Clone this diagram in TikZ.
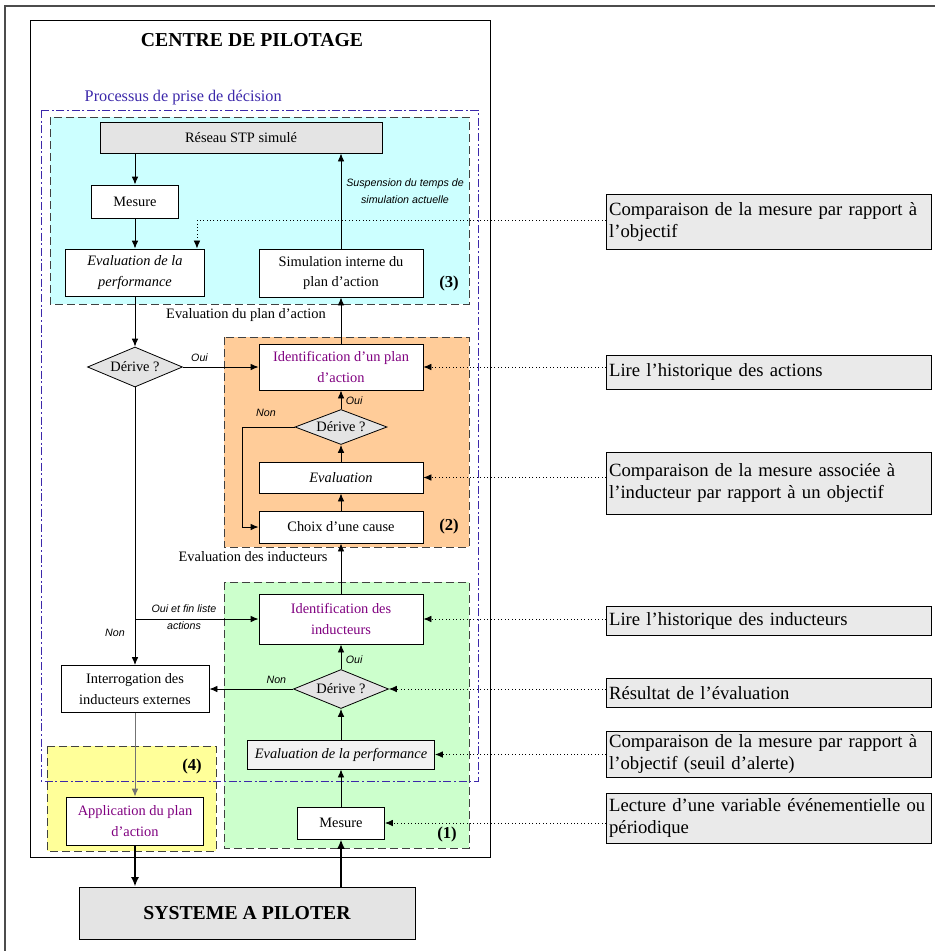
\documentclass[tikz,border=0pt]{standalone}
\usepackage{fontspec}
\setmainfont{Liberation Serif}
\newfontfamily\notefont{Liberation Sans}
\usetikzlibrary{shapes.geometric,arrows.meta}

\definecolor{zonecyan}{RGB}{204,255,255}
\definecolor{zoneorange}{RGB}{255,204,153}
\definecolor{zonegreen}{RGB}{204,255,204}
\definecolor{zoneyellow}{RGB}{255,255,153}
\definecolor{boxgray}{RGB}{228,228,228}
\definecolor{notegray}{RGB}{234,234,234}
\definecolor{procblue}{RGB}{60,40,170}
\definecolor{idpurple}{RGB}{128,0,128}

\begin{document}
\begin{tikzpicture}[x=0.75pt, y=-0.75pt,
	box/.style={draw, fill=white, line width=0.7pt, align=center, inner sep=1pt,
		font=\fontsize{10.8}{15.5}\selectfont},
	decision/.style={diamond, draw, fill=boxgray, aspect=2.4, inner sep=1pt,
		line width=0.6pt, font=\fontsize{10.8}{13}\selectfont},
	zone/.style={draw=black!75, dash pattern=on 6pt off 3pt, line width=0.7pt},
	arr/.style={-{Latex[length=6pt,width=5pt]}, line width=0.7pt},
	thickarr/.style={-{Latex[length=7pt,width=6pt]}, line width=1.6pt},
	dotarr/.style={-{Latex[length=6pt,width=5pt]}, dotted, line width=0.6pt},
	note/.style={draw, fill=notegray, line width=0.7pt, anchor=north west, align=left,
		inner sep=2pt, text width=239.75pt, font=\fontsize{14}{16.5}\selectfont},
	lbl/.style={font=\notefont\itshape\fontsize{8}{12.75}\selectfont, align=center},
	tag/.style={font=\bfseries\fontsize{12.5}{14}\selectfont}
]
	\useasboundingbox (0,0) rectangle (935,951);

	% --- Page frame ---
	\draw[line width=1.5pt, black!70] (935,6) -- (5,6) -- (5,951);

	% --- Centre de pilotage ---
	\draw[line width=0.7pt] (30,20) rectangle (490,857);
	\node[font=\bfseries\fontsize{14.8}{16}\selectfont] (title) at (252,40) {CENTRE DE PILOTAGE};

	% --- Zones ---
	\draw[zone, fill=zonecyan] (50,117) rectangle (469,304);
	\draw[zone, fill=zoneorange] (224,337) rectangle (469,547);
	\draw[zone, fill=zonegreen] (224,582) rectangle (469,848);
	\draw[zone, fill=zoneyellow] (47,746) rectangle (216,851);
	\draw[procblue, line width=0.7pt, dash pattern=on 6pt off 2pt on 1.5pt off 2pt]
		(41,110) rectangle (478,781);
	\node[procblue, anchor=west, font=\fontsize{12.2}{14}\selectfont] (proc) at (80,98)
		{Processus de prise de décision};

	% --- Zone tags ---
	\node[tag] (tag3) at (449,283) {(3)};
	\node[tag] (tag2) at (449,526) {(2)};
	\node[tag] (tag1) at (447,834) {(1)};
	\node[tag] (tag4) at (192,766) {(4)};

	% --- Simulation (3) ---
	\node[box, fill=boxgray, minimum width=211.5pt, minimum height=23.25pt] (reseau) at (241,137.5) {Réseau STP simulé};
	\node[box, minimum width=65.25pt, minimum height=24.75pt] (mesure3) at (135,201.5) {Mesure};
	\node[box, minimum width=104.25pt, minimum height=35.25pt, font=\itshape\fontsize{10.8}{15.5}\selectfont] (eval3) at (135,272.5) {Evaluation de la\\performance};
	\node[box, minimum width=123pt, minimum height=36pt] (simul) at (341,273) {Simulation interne du\\plan d’action};
	\node[lbl] (suspend) at (405,191.5) {Suspension du temps de\\simulation actuelle};

	% --- Plan d'action (2) ---
	\node[decision, minimum width=71.25pt, minimum height=30pt] (d1) at (135,367) {Dérive ?};
	\node[box, text=idpurple, minimum width=123pt, minimum height=34.5pt] (idplan) at (341,367) {Identification d’un plan\\d’action};
	\node[decision, minimum width=69pt, minimum height=26.25pt] (d2) at (341,427) {Dérive ?};
	\node[box, minimum width=123pt, minimum height=23.25pt, font=\itshape\fontsize{10.8}{15.5}\selectfont] (evaluation) at (341,477.5) {Evaluation};
	\node[box, minimum width=123pt, minimum height=24pt] (choix) at (341,527) {Choix d’une cause};
	\node[font=\fontsize{10.8}{13}\selectfont] (evplan) at (246,315) {Evaluation du plan d’action};
	\node[font=\fontsize{10.8}{13}\selectfont] (evind) at (253,557) {Evaluation des inducteurs};

	% --- Inducteurs (1) ---
	\node[box, text=idpurple, minimum width=123pt, minimum height=37.5pt] (idind) at (341,619) {Identification des\\inducteurs};
	\node[decision, minimum width=71.25pt, minimum height=29.25pt] (d3) at (341,689) {Dérive ?};
	\node[box, minimum width=111pt, minimum height=35.25pt] (interrog) at (135,689) {Interrogation des\\inducteurs externes};
	\node[box, fill=notegray!60, minimum width=140.25pt, minimum height=21.75pt, font=\itshape\fontsize{10.8}{15.5}\selectfont] (evalperf1) at (341,754.5) {Evaluation de la performance};
	\node[box, minimum width=65.25pt, minimum height=24pt] (mesure1) at (341,823) {Mesure};

	% --- Application (4) and system ---
	\node[box, text=idpurple, minimum width=102.75pt, minimum height=36pt] (application) at (135,821) {Application du plan\\d’action};
	\node[box, fill=boxgray, minimum width=252pt, minimum height=39pt, font=\bfseries\fontsize{14.8}{16}\selectfont] (systeme) at (247,913) {SYSTEME A PILOTER};

	% --- Notes ---
	\node[note, minimum height=41.25pt] (n1) at (606,194) {Comparaison de la mesure par rapport à\\l’objectif};
	\node[note, minimum height=25.5pt] (n2) at (606,355) {Lire l’historique des actions};
	\node[note, minimum height=46.5pt] (n3) at (606,452) {Comparaison de la mesure associée à\\l’inducteur par rapport à un objectif};
	\node[note, minimum height=21.75pt] (n4) at (606,606) {Lire l’historique des inducteurs};
	\node[note, minimum height=21.75pt] (n5) at (606,678) {Résultat de l’évaluation};
	\node[note, minimum height=34.5pt] (n6) at (606,731) {Comparaison de la mesure par rapport à\\l’objectif (seuil d’alerte)};
	\node[note, minimum height=37.5pt] (n7) at (606,793) {Lecture d’une variable événementielle ou\\périodique};

	% --- Connectors in (3) ---
	\draw[arr] (mesure3.north |- reseau.south) -- (mesure3.north);
	\draw[arr] (mesure3) -- (eval3);
	\draw[arr] (simul.north) -- (simul.north |- reseau.south);

	% --- Connectors in (2) ---
	\draw[arr] (eval3) -- (d1);
	\draw[arr] (d1.east) -- node[lbl, above, pos=0.22] (oui1) {Oui} (idplan.west);
	\draw[arr] (idplan) -- (simul);
	\draw[arr] (d2) -- node[lbl, right, pos=0.45] (oui2) {Oui} (idplan);
	\draw[arr] (evaluation) -- (d2);
	\draw[arr] (choix) -- (evaluation);
	\draw[arr] (d2.west) -| ([xshift=-12pt]choix.west) -- (choix.west);
	\node[lbl] (non2) at (266,413) {Non};
	\draw[arr] (idind) -- (choix);

	% --- Connectors in (1) ---
	\draw[arr] (d1.south) -- (interrog.north);
	\draw[arr] (d1.south |- idind.west) -- (idind.west);
	\node[lbl] (ouifin) at (184,617) {Oui et fin liste\\actions};
	\node[lbl] (non1) at (115,633) {Non};
	\draw[arr] (d3.west) -- node[lbl, above, pos=0.2] (non3) {Non} (interrog.east);
	\draw[arr] (d3) -- node[lbl, right, pos=0.4] (oui3) {Oui} (idind);
	\draw[arr] (evalperf1) -- (d3);
	\draw[arr] (mesure1) -- (evalperf1);

	% --- To and from the system ---
	\draw[arr, black!55] (interrog) -- (application);
	\draw[thickarr] (application.south) -- (application.south |- systeme.north);
	\draw[thickarr] (mesure1.south |- systeme.north) -- (mesure1.south);

	% --- Notes to boxes ---
	\draw[dotarr] (n1.west |- 0,220) -| ([xshift=-6pt]eval3.north east);
	\draw[dotarr] (idplan.east -| n2.west) -- (idplan.east);
	\draw[dotarr] (evaluation.east -| n3.west) -- (evaluation.east);
	\draw[dotarr] (idind.east -| n4.west) -- (idind.east);
	\draw[dotarr] (d3.east -| n5.west) -- (d3.east);
	\draw[dotarr] (evalperf1.east -| n6.west) -- (evalperf1.east);
	\draw[dotarr] (mesure1.east -| n7.west) -- (mesure1.east);

\end{tikzpicture}
\end{document}
